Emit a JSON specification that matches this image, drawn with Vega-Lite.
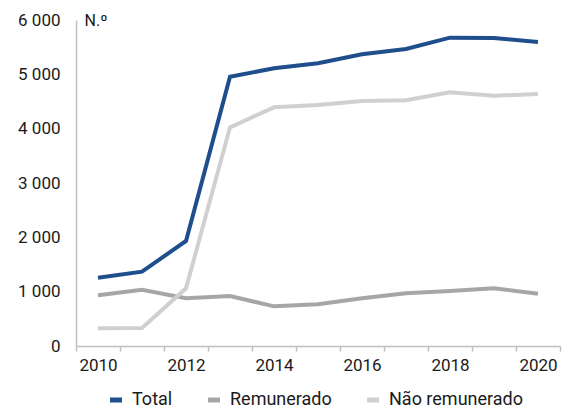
{
  "$schema": "https://vega.github.io/schema/vega-lite/v6.json",
  "width": 484,
  "height": 326,
  "autosize": {"type": "none"},
  "padding": {"left": 76, "top": 20, "right": 2, "bottom": 65},
  "background": "white",
  "config": {
    "view": {"stroke": null},
    "font": "Roboto",
    "axis": {"labelFont": "Roboto", "titleFont": "Roboto", "labelColor": "#1a1a1a", "titleColor": "#1a1a1a"},
    "legend": {"labelFont": "Roboto", "labelColor": "#1a1a1a"}
  },
  "data": {
    "values": [
      {"ano": "2010", "serie": "Total", "valor": 1257},
      {"ano": "2011", "serie": "Total", "valor": 1368},
      {"ano": "2012", "serie": "Total", "valor": 1933},
      {"ano": "2013", "serie": "Total", "valor": 4957},
      {"ano": "2014", "serie": "Total", "valor": 5111},
      {"ano": "2015", "serie": "Total", "valor": 5203},
      {"ano": "2016", "serie": "Total", "valor": 5369},
      {"ano": "2017", "serie": "Total", "valor": 5466},
      {"ano": "2018", "serie": "Total", "valor": 5675},
      {"ano": "2019", "serie": "Total", "valor": 5669},
      {"ano": "2020", "serie": "Total", "valor": 5595},
      {"ano": "2010", "serie": "Remunerado", "valor": 933},
      {"ano": "2011", "serie": "Remunerado", "valor": 1036},
      {"ano": "2012", "serie": "Remunerado", "valor": 878},
      {"ano": "2013", "serie": "Remunerado", "valor": 920},
      {"ano": "2014", "serie": "Remunerado", "valor": 730},
      {"ano": "2015", "serie": "Remunerado", "valor": 770},
      {"ano": "2016", "serie": "Remunerado", "valor": 878},
      {"ano": "2017", "serie": "Remunerado", "valor": 970},
      {"ano": "2018", "serie": "Remunerado", "valor": 1012},
      {"ano": "2019", "serie": "Remunerado", "valor": 1062},
      {"ano": "2020", "serie": "Remunerado", "valor": 963},
      {"ano": "2010", "serie": "Não remunerado", "valor": 325},
      {"ano": "2011", "serie": "Não remunerado", "valor": 330},
      {"ano": "2012", "serie": "Não remunerado", "valor": 1062},
      {"ano": "2013", "serie": "Não remunerado", "valor": 4025},
      {"ano": "2014", "serie": "Não remunerado", "valor": 4393},
      {"ano": "2015", "serie": "Não remunerado", "valor": 4436},
      {"ano": "2016", "serie": "Não remunerado", "valor": 4509},
      {"ano": "2017", "serie": "Não remunerado", "valor": 4522},
      {"ano": "2018", "serie": "Não remunerado", "valor": 4669},
      {"ano": "2019", "serie": "Não remunerado", "valor": 4607},
      {"ano": "2020", "serie": "Não remunerado", "valor": 4638}
    ]
  },
  "mark": {"type": "line", "strokeWidth": 4, "strokeCap": "butt"},
  "encoding": {
    "x": {
      "field": "ano",
      "type": "ordinal",
      "scale": {"type": "band", "paddingInner": 0, "paddingOuter": 0},
      "axis": {
        "title": null,
        "labelAngle": 0,
        "tickBand": "extent",
        "tickSize": 5,
        "tickColor": "#bfbfbf",
        "domainColor": "#bfbfbf",
        "domainWidth": 1.5,
        "tickWidth": 1.5,
        "labelFontSize": 17,
        "labelPadding": 6,
        "grid": false,
        "labelExpr": "toNumber(datum.value) % 2 == 0 ? datum.value : ''"
      }
    },
    "y": {
      "field": "valor",
      "type": "quantitative",
      "scale": {"domain": [0, 6000], "nice": false},
      "axis": {
        "values": [0, 1000, 2000, 3000, 4000, 5000, 6000],
        "labelExpr": "replace(format(datum.value, ','), ',', ' ')",
        "ticks": false,
        "tickSize": 0,
        "grid": false,
        "domainColor": "#bfbfbf",
        "domainWidth": 1.5,
        "labelFontSize": 17,
        "labelPadding": 16,
        "title": "N.º",
        "titleAngle": 0,
        "titleAlign": "left",
        "titleBaseline": "middle",
        "titleX": 8,
        "titleY": 0,
        "titleFontSize": 16,
        "titleFontWeight": "normal"
      }
    },
    "color": {
      "field": "serie",
      "type": "nominal",
      "scale": {
        "domain": ["Total", "Remunerado", "Não remunerado"],
        "range": ["#1f4e8c", "#a6a6a6", "#d0d0d0"]
      },
      "legend": {
        "title": null,
        "orient": "none",
        "direction": "horizontal",
        "legendX": 31,
        "legendY": 371,
        "symbolType": "stroke",
        "symbolStrokeWidth": 5,
        "symbolSize": 144,
        "labelFontSize": 18,
        "labelOffset": 7,
        "columnPadding": 25
      }
    }
  }
}
